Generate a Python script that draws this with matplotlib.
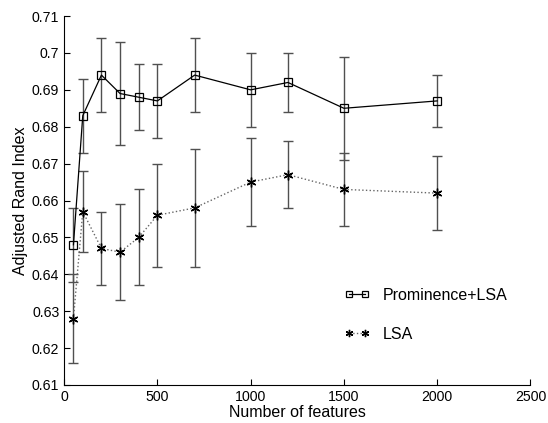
import numpy as np
import matplotlib
matplotlib.use('Agg')
import matplotlib.pyplot as plt

plt.rcParams['font.family'] = ['Liberation Sans', 'DejaVu Sans']

# number of features
n_feat = [50, 100, 200, 300, 400, 500, 700, 1000, 1200, 1500, 2000]

# Prominence+LSA: mean and error bar bounds
prom_mean = [0.648, 0.683, 0.694, 0.689, 0.688, 0.687, 0.694, 0.690, 0.692, 0.685, 0.687]
prom_lo = [0.638, 0.673, 0.684, 0.675, 0.679, 0.677, 0.684, 0.680, 0.684, 0.671, 0.680]
prom_hi = [0.658, 0.693, 0.704, 0.703, 0.697, 0.697, 0.704, 0.700, 0.700, 0.699, 0.694]

# LSA only
lsa_mean = [0.628, 0.657, 0.647, 0.646, 0.650, 0.656, 0.658, 0.665, 0.667, 0.663, 0.662]
lsa_lo = [0.616, 0.646, 0.637, 0.633, 0.637, 0.642, 0.642, 0.653, 0.658, 0.653, 0.652]
lsa_hi = [0.640, 0.668, 0.657, 0.659, 0.663, 0.670, 0.674, 0.677, 0.676, 0.673, 0.672]

x = np.array(n_feat)
pm, lm = np.array(prom_mean), np.array(lsa_mean)
prom_err = [pm - np.array(prom_lo), np.array(prom_hi) - pm]
lsa_err = [lm - np.array(lsa_lo), np.array(lsa_hi) - lm]

fig = plt.figure(figsize=(5.48, 4.23), dpi=100)
ax = fig.add_axes([0.117, 0.090, 0.851, 0.872])

ax.errorbar(x, pm, yerr=prom_err, fmt='none', ecolor='#505050', elinewidth=1.0, capsize=3.5, capthick=1.0)
ax.errorbar(x, lm, yerr=lsa_err, fmt='none', ecolor='#505050', elinewidth=1.0, capsize=3.5, capthick=1.0)
ax.plot(x, pm, '-', color='black', lw=0.9, marker='s', ms=5.5, mfc='none', mec='black', mew=0.9, label='Prominence+LSA')
ax.plot(x, lm, ':', color='#666666', lw=1.0, marker=(6, 2, 0), ms=7, mec='black', mew=1.0, label='LSA')

ax.set_xlim(0, 2500)
ax.set_ylim(0.61, 0.71)
ax.set_xticks([0, 500, 1000, 1500, 2000, 2500])
ax.set_yticks(np.round(np.arange(0.61, 0.7101, 0.01), 2))
ax.set_yticklabels(['0.61', '0.62', '0.63', '0.64', '0.65', '0.66', '0.67', '0.68', '0.69', '0.7', '0.71'])
ax.spines['top'].set_visible(False)
ax.spines['right'].set_visible(False)
ax.tick_params(direction='in', length=4, labelsize=10.2, width=0.8)
ax.set_xlabel('Number of features', fontsize=11.5, labelpad=1)
ax.set_ylabel('Adjusted Rand Index', fontsize=11.5, labelpad=3)

leg = ax.legend(loc='center left', bbox_to_anchor=(0.57, 0.19), frameon=False, fontsize=11.5,
                numpoints=2, handlelength=1.6, labelspacing=1.5, markerscale=0.75)

fig.savefig('out.png', dpi=100)
